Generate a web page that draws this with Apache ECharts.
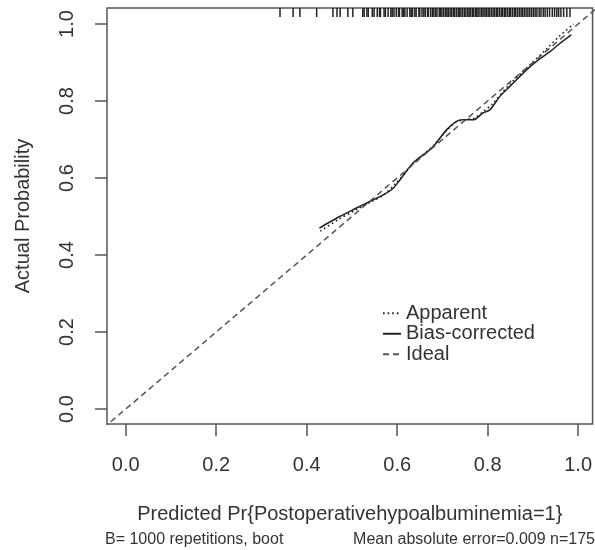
<!DOCTYPE html>
<html><head><meta charset="utf-8">
<script src="https://cdn.jsdelivr.net/npm/echarts/dist/echarts.min.js"></script>
<style>html,body{margin:0;padding:0;background:#fff}#c{width:595px;height:550px}</style>
</head><body><div id="c"></div>
<script>
// ---- data ----
const xTicks = [0, 0.2, 0.4, 0.6, 0.8, 1.0];
const yTicks = [0, 0.2, 0.4, 0.6, 0.8, 1.0];
const seriesNames = ['Apparent', 'Bias-corrected', 'Ideal'];
const apparentX = [0.43, 0.47, 0.51, 0.54, 0.57, 0.60, 0.635, 0.68, 0.71, 0.73, 0.75, 0.77, 0.79, 0.81, 0.85, 0.89, 0.93, 0.96, 0.99];
const apparentY = [0.462, 0.492, 0.518, 0.537, 0.556, 0.590, 0.637, 0.684, 0.724, 0.745, 0.752, 0.755, 0.772, 0.792, 0.845, 0.890, 0.935, 0.970, 1.000];
const biasX = [0.428, 0.45, 0.473, 0.49, 0.51, 0.54, 0.569, 0.59, 0.606, 0.635, 0.66, 0.68, 0.709, 0.731, 0.746, 0.768, 0.79, 0.805, 0.827, 0.849, 0.886, 0.912, 0.94, 0.96, 0.985];
const biasY = [0.470, 0.485, 0.500, 0.510, 0.522, 0.539, 0.556, 0.572, 0.595, 0.639, 0.662, 0.682, 0.725, 0.747, 0.751, 0.751, 0.769, 0.777, 0.812, 0.838, 0.881, 0.907, 0.930, 0.950, 0.972];
const idealX = [-0.05, 1.05];
const idealY = [-0.05, 1.05];
const rugX = [0.341, 0.370, 0.385, 0.422, 0.458, 0.467, 0.474, 0.491, 0.502,
  0.524, 0.527, 0.533, 0.536, 0.545, 0.549, 0.556, 0.561, 0.563, 0.571, 0.574, 0.580, 0.586, 0.589, 0.593, 0.598,
  0.603, 0.605, 0.611, 0.614, 0.617, 0.622, 0.628, 0.631, 0.634, 0.639, 0.642, 0.648, 0.650, 0.655, 0.659, 0.662,
  0.667, 0.669, 0.674, 0.678, 0.681, 0.685, 0.688, 0.693, 0.696, 0.699, 0.703, 0.707, 0.710, 0.713, 0.717, 0.720,
  0.724, 0.727, 0.731, 0.735, 0.738, 0.741, 0.745, 0.749, 0.752, 0.756, 0.759, 0.762, 0.766, 0.769, 0.773, 0.776,
  0.779, 0.783, 0.787, 0.790, 0.794, 0.797, 0.801, 0.804, 0.808, 0.812, 0.815, 0.819, 0.822, 0.826, 0.830, 0.833,
  0.837, 0.840, 0.844, 0.848, 0.851, 0.855, 0.859, 0.862, 0.866, 0.870, 0.874, 0.877, 0.881, 0.885, 0.889, 0.893,
  0.897, 0.901, 0.905, 0.909, 0.914, 0.918, 0.923, 0.927, 0.932, 0.937, 0.943, 0.948, 0.953, 0.957, 0.962, 0.968,
  0.975, 0.982];
const xTitle = 'Predicted Pr{Postoperativehypoalbuminemia=1}';
const yTitle = 'Actual Probability';
const subLeft = 'B= 1000 repetitions, boot';
const subRight = 'Mean absolute error=0.009 n=175';

// ---- chart ----
const FONT = 'Liberation Sans, Arial, sans-serif';
const TXT = '#333';
const X_MIN = -0.0415, X_MAX = 1.032, Y_MIN = -0.039, Y_MAX = 1.0416;
const pairs = (xs, ys) => xs.map((x, i) => [x, ys[i]]);
const chart = echarts.init(document.getElementById('c'));
chart.setOption({
  animation: false,
  backgroundColor: '#fff',
  textStyle: { fontFamily: FONT },
  grid: { left: 107, top: 8, right: 2, bottom: 126, show: true, borderColor: '#555', borderWidth: 1.5, backgroundColor: 'transparent' },
  xAxis: {
    type: 'value', min: X_MIN, max: X_MAX,
    axisLine: { show: false, onZero: false },
    splitLine: { show: false },
    axisTick: { show: true, inside: false, customValues: xTicks, length: 12, lineStyle: { color: '#555', width: 1.5 } },
    axisLabel: { customValues: xTicks, formatter: v => v.toFixed(1), fontSize: 20, color: TXT, margin: 31, fontFamily: FONT },
    name: xTitle, nameLocation: 'middle', nameGap: 80,
    nameTextStyle: { fontSize: 20, color: TXT, fontFamily: FONT }
  },
  yAxis: {
    type: 'value', min: Y_MIN, max: Y_MAX,
    axisLine: { show: false, onZero: false },
    splitLine: { show: false },
    axisTick: { show: true, inside: false, customValues: yTicks, length: 12, lineStyle: { color: '#555', width: 1.5 } },
    axisLabel: { customValues: yTicks, formatter: v => v.toFixed(1), fontSize: 20, color: TXT, margin: 30, rotate: 90, fontFamily: FONT },
    name: yTitle, nameLocation: 'middle', nameGap: 74, nameRotate: 90,
    nameTextStyle: { fontSize: 20, color: TXT, fontFamily: FONT }
  },
  legend: {
    data: seriesNames, orient: 'vertical', left: 382, top: 303, padding: 0,
    itemWidth: 18, itemHeight: 12, itemGap: 0,
    itemStyle: { color: 'rgba(0,0,0,0)', borderWidth: 0, opacity: 0 },
    textStyle: { fontSize: 20, color: TXT, lineHeight: 20.5, fontFamily: FONT }
  },
  graphic: [
    { type: 'text', left: 105, top: 532, style: { text: subLeft, fontSize: 16, fill: TXT, fontFamily: FONT } },
    { type: 'text', right: 0, top: 532, style: { text: subRight, fontSize: 16, fill: TXT, fontFamily: FONT } }
  ],
  series: [
    { name: 'Apparent', type: 'line', data: pairs(apparentX, apparentY), symbol: 'none', smooth: 0.3,
      lineStyle: { color: '#222', width: 1.6, type: [1.6, 3] }, itemStyle: { color: '#222' } },
    { name: 'Bias-corrected', type: 'line', data: pairs(biasX, biasY), symbol: 'none', smooth: 0.3,
      lineStyle: { color: '#222', width: 1.5, type: 'solid' }, itemStyle: { color: '#222' } },
    { name: 'Ideal', type: 'line', data: pairs(idealX, idealY), symbol: 'none', clip: true,
      lineStyle: { color: '#555', width: 1.5, type: [6, 4] }, itemStyle: { color: '#555' } },
    { name: 'rug', type: 'custom', data: rugX.map(v => [v]), encode: { x: 0 },
      renderItem: (params, api) => {
        const p = api.coord([api.value(0), Y_MAX]);
        return { type: 'line', shape: { x1: p[0], y1: p[1], x2: p[0], y2: p[1] + 9 }, style: { stroke: '#222', lineWidth: 1.5 } };
      } }
  ]
});
</script></body></html>
